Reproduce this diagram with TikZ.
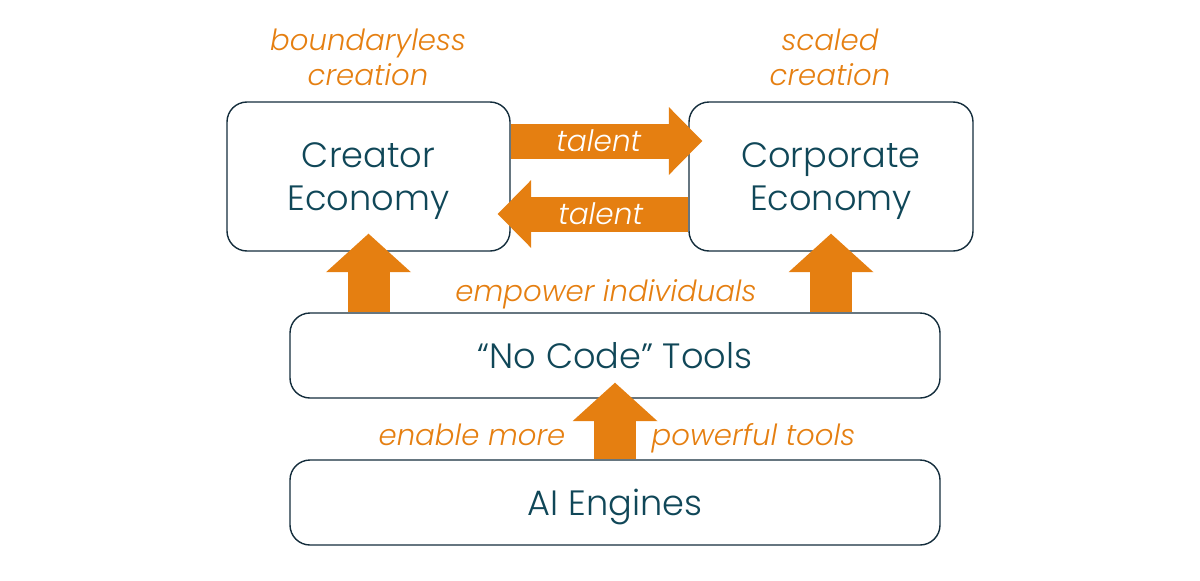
\documentclass[tikz,border=0pt]{standalone}
\usepackage{fontspec}
\setmainfont{Poppins}[UprightFont=* Light, ItalicFont=* Light Italic]
\usepackage{tikz}
\usetikzlibrary{arrows.meta,positioning,calc}
\definecolor{flowOrange}{RGB}{229,127,17}
\definecolor{labelTeal}{RGB}{16,71,88}
\definecolor{boxLine}{RGB}{20,45,60}
\tikzset{
  every picture/.style={line width=0.8pt},
  sBox/.style={draw=boxLine, rounded corners=0.4cm, text=labelTeal, align=center,
                 inner sep=0pt, text depth=0pt, font=\fontsize{20}{24}\selectfont},
  sNote/.style={text=flowOrange, align=center, inner sep=0pt,
                 font=\itshape\fontsize{16.6}{20}\selectfont},
  sTalent/.style={text=white, inner sep=0pt, font=\itshape\fontsize{16.8}{20}\selectfont},
  sFlowH/.style={draw=flowOrange, line width=0.7cm,
                 -{Triangle[length=0.67cm, width=1.36cm, line width=0pt]}},
  sFlowV/.style={draw=flowOrange, line width=0.84cm,
                 -{Triangle[length=0.77cm, width=1.7cm, line width=0pt]}},
}

\begin{document}
\begin{tikzpicture}
  \useasboundingbox (0,0) rectangle (24,-11.6);
  % boxes
  \node[sBox, minimum width=5.66cm, minimum height=2.98cm] (creator) at (7.37,-3.53)
        {Creator\\Economy};
  \node[sBox, minimum width=5.68cm, minimum height=2.98cm] (corporate) at (16.62,-3.53)
        {Corporate\\Economy};
  \node[sBox, minimum width=13cm, minimum height=1.7cm] (tools) at (12.3,-7.11)
        {``No Code'' Tools};
  \node[sBox, minimum width=13cm, minimum height=1.7cm] (engines) at (12.3,-10.05)
        {AI Engines};
  % orange notes
  \node[sNote] (boundless) at (7.36,-1.14) {boundaryless\\creation};
  \node[sNote] (scaled) at (16.6,-1.14) {scaled\\creation};
  \node[sNote] (empower) at (12.12,-5.88) {empower individuals};
  \node[sNote, anchor=mid east] (enable) at (11.32,-8.82) {enable more};
  \node[sNote, anchor=mid west] (powerful) at (13.02,-8.82) {powerful tools};
  % talent flows
  \draw[sFlowH] ([yshift=0.71cm]creator.east) -- ([yshift=0.71cm,xshift=0.28cm]corporate.west)
        node[pos=0.46, sTalent] {talent};
  \draw[sFlowH] ([yshift=-0.75cm]corporate.west) -- ([yshift=-0.75cm,xshift=-0.26cm]creator.east)
        node[pos=0.46, sTalent] {talent};
  % upward flows
  \draw[sFlowV] (creator.south |- tools.north) -- ([yshift=0.36cm]creator.south);
  \draw[sFlowV] (corporate.south |- tools.north) -- ([yshift=0.36cm]corporate.south);
  \draw[sFlowV] (engines.north) -- ([yshift=0.32cm]tools.south);
\end{tikzpicture}
\end{document}
